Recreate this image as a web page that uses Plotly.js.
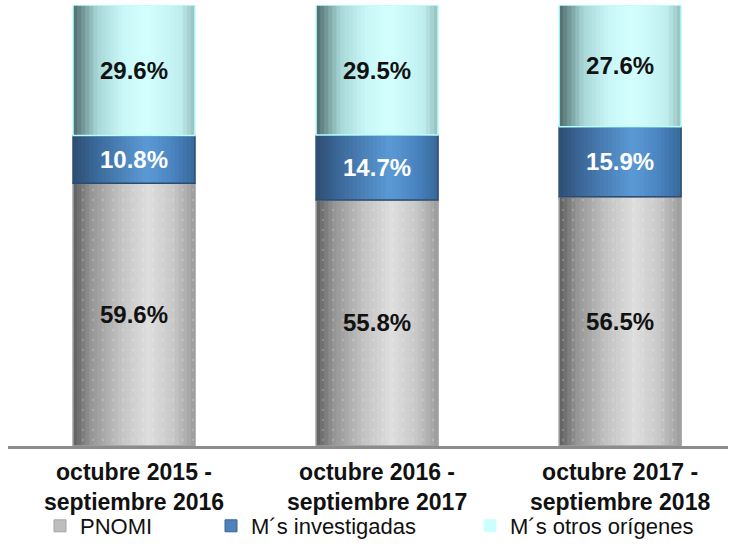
<!DOCTYPE html>
<html>
<head>
<meta charset="utf-8">
<script src="https://cdn.plot.ly/plotly-3.0.1.min.js"></script>
<style>html,body{margin:0;padding:0;background:#fff;}#chart{width:730px;height:546px;}</style>
</head>
<body>
<div id="chart"></div>
<script>
const categories = ['octubre 2015 -<br>septiembre 2016', 'octubre 2016 -<br>septiembre 2017', 'octubre 2017 -<br>septiembre 2018'];
const seriesNames = ['PNOMI', 'M´s investigadas', 'M´s otros orígenes'];
const pnomi = [59.6, 55.8, 56.5];
const investigadas = [10.8, 14.7, 15.9];
const otros = [29.6, 29.5, 27.6];

const ARIAL = '"Liberation Sans", Arial, sans-serif';

const styles = [
  {stops: [[0, [95,95,95]], [0.15, [150,150,150]], [0.4, [196,196,196]], [0.62, [222,222,222]], [0.82, [200,200,200]], [1, [155,155,155]]],
   legendColor: '#bdbdbd', legendLine: '#a5a5a5', textColor: '#111111', line: '#a0a0a0', dots: true},
  {stops: [[0, [45,78,114]], [0.2, [61,106,156]], [0.6, [91,154,214]], [0.82, [74,132,192]], [1, [56,104,154]]],
   legendColor: '#4f81bd', legendLine: '#3a6592', textColor: '#ffffff', line: '#2b4c70', dots: false},
  {stops: [[0, [79,107,107]], [0.2, [168,216,216]], [0.4, [200,245,245]], [0.6, [212,255,255]], [0.88, [192,238,238]], [1, [150,190,190]]],
   legendColor: '#ccffff', legendLine: '#ccffff', textColor: '#111111', line: '#b8ffff', dots: false}
];
const values = [pnomi, investigadas, otros];

function colorAt(stops, t) {
  for (let i = 1; i < stops.length; i++) {
    if (t <= stops[i][0]) {
      const a = stops[i-1], b = stops[i];
      const f = (t - a[0]) / (b[0] - a[0]);
      const c = a[1].map((v, k) => Math.round(v + (b[1][k] - v) * f));
      return 'rgb(' + c.join(',') + ')';
    }
  }
  const l = stops[stops.length-1][1];
  return 'rgb(' + l.join(',') + ')';
}

const W = 0.502;
const N = 30;
const traces = [];
let cumulative = categories.map(() => 0);
values.forEach((vals, s) => {
  const base = cumulative.slice();
  const st = styles[s];
  for (let i = 0; i < N; i++) {
    const t = (i + 0.5) / N;
    const col = colorAt(st.stops, t);
    const tr = {
      type: 'bar', x: categories, y: vals, base: base,
      width: (i < N - 1 ? W / N * 1.4 : W / N), offset: -W / 2 + i * W / N,
      marker: {color: col, line: {width: 0}},
      showlegend: false, hoverinfo: 'skip'
    };
    if (st.dots) {
      tr.marker.pattern = {shape: '.', fillmode: 'overlay', bgcolor: col, fgcolor: '#ffffff', fgopacity: 0.2, size: 10, solidity: 0.04};
    }
    traces.push(tr);
  }
  traces.push({
    type: 'bar', x: categories, y: vals, base: base, width: W, offset: -W / 2,
    marker: {color: 'rgba(0,0,0,0)', line: {width: 1.5, color: st.line}},
    text: vals.map(v => v.toFixed(1) + '%'),
    textposition: 'inside', insidetextanchor: 'middle', textangle: 0, constraintext: 'none',
    textfont: {family: ARIAL, size: 24, weight: 'bold', color: st.textColor},
    showlegend: false, hoverinfo: 'skip'
  });
  cumulative = cumulative.map((c, k) => c + vals[k]);
});

const legendIds = ['legend', 'legend2', 'legend3'];
seriesNames.forEach((name, s) => {
  const st = styles[s];
  traces.push({
    type: 'bar', x: [null], y: [null], name: name, legend: legendIds[s],
    marker: {color: st.legendColor, line: {width: 1, color: st.legendLine}}, showlegend: true
  });
});

const legendX = [40, 211, 470];
const legendFont = {family: ARIAL, size: 22, color: '#111111'};
const layout = {
  width: 730, height: 546,
  margin: {l: 8, r: 2, t: 5, b: 100},
  paper_bgcolor: '#ffffff', plot_bgcolor: '#ffffff',
  barmode: 'overlay',
  xaxis: {
    type: 'category', range: [-0.5185, 2.444],
    showline: true, linecolor: '#8c8c8c', linewidth: 3,
    showgrid: false, zeroline: false, ticks: '',
    tickfont: {family: ARIAL, size: 23, weight: 'bold', color: '#111111'},
    ticklabelstandoff: 3, automargin: false
  },
  yaxis: {range: [0, 100], visible: false, showgrid: false, zeroline: false},
  showlegend: true
};
legendIds.forEach((id, s) => {
  layout[id] = {
    x: (legendX[s] - 8) / 720, xanchor: 'left',
    yref: 'container', y: 1 - 505 / 546, yanchor: 'top', orientation: 'h',
    font: legendFont, bgcolor: 'rgba(0,0,0,0)', borderwidth: 0
  };
});

Plotly.newPlot('chart', traces, layout, {displayModeBar: false, staticPlot: true});
</script>
</body>
</html>
